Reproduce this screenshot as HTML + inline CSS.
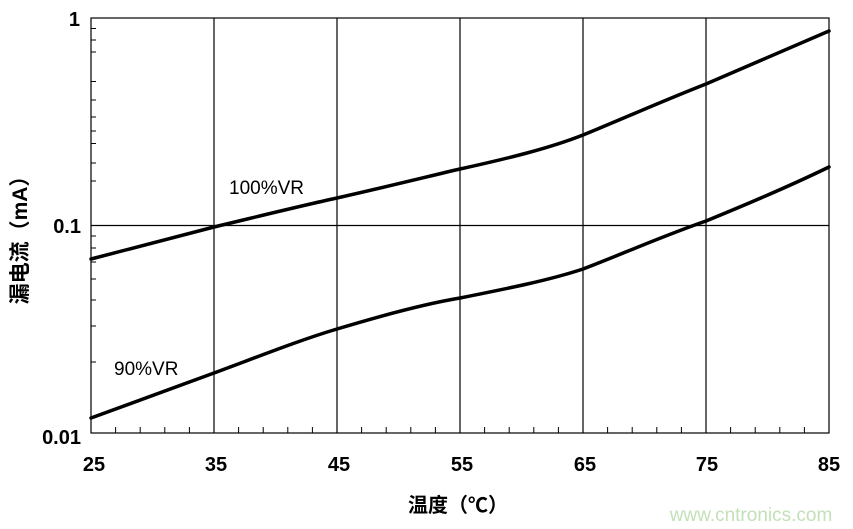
<!DOCTYPE html>
<html><head><meta charset="utf-8"><style>
html,body{margin:0;padding:0;background:#fff;}
svg{display:block;font-family:"Liberation Sans","Noto Sans CJK SC",sans-serif;}
</style></head><body>
<svg width="853" height="529" viewBox="0 0 853 529" xmlns="http://www.w3.org/2000/svg">
<rect width="853" height="529" fill="#fff"/>
<g stroke="#000" stroke-width="1.2" fill="none">
<rect x="91" y="18" width="738" height="415"/>
<line x1="214" y1="18" x2="214" y2="433"/>
<line x1="337" y1="18" x2="337" y2="433"/>
<line x1="460" y1="18" x2="460" y2="433"/>
<line x1="583" y1="18" x2="583" y2="433"/>
<line x1="706" y1="18" x2="706" y2="433"/>
<line x1="91" y1="225.5" x2="829" y2="225.5"/>
</g>
<g stroke="#000" stroke-width="1">
<line x1="91" x2="96" y1="81.5" y2="81.5"/><line x1="91" x2="96" y1="100" y2="100"/><line x1="91" x2="96" y1="117" y2="117"/><line x1="91" x2="96" y1="131" y2="131"/><line x1="91" x2="96" y1="143.5" y2="143.5"/><line x1="91" x2="96" y1="163" y2="163"/><line x1="91" x2="96" y1="181" y2="181"/>
<line x1="91" x2="96" y1="236" y2="236"/><line x1="91" x2="96" y1="248" y2="248"/><line x1="91" x2="96" y1="262" y2="262"/><line x1="91" x2="96" y1="279" y2="279"/><line x1="91" x2="96" y1="300" y2="300"/><line x1="91" x2="96" y1="326" y2="326"/><line x1="91" x2="96" y1="362" y2="362"/>
<line x1="91" x2="96" y1="28.5" y2="28.5"/><line x1="91" x2="96" y1="40" y2="40"/><line x1="91" x2="96" y1="52" y2="52"/>
</g>
<g stroke="#000" stroke-width="1">
<line x1="115.6" x2="115.6" y1="427" y2="433"/><line x1="140.2" x2="140.2" y1="427" y2="433"/><line x1="164.8" x2="164.8" y1="427" y2="433"/><line x1="189.4" x2="189.4" y1="427" y2="433"/>
<line x1="238.6" x2="238.6" y1="427" y2="433"/><line x1="263.2" x2="263.2" y1="427" y2="433"/><line x1="287.8" x2="287.8" y1="427" y2="433"/><line x1="312.4" x2="312.4" y1="427" y2="433"/>
<line x1="361.6" x2="361.6" y1="427" y2="433"/><line x1="386.2" x2="386.2" y1="427" y2="433"/><line x1="410.8" x2="410.8" y1="427" y2="433"/><line x1="435.4" x2="435.4" y1="427" y2="433"/>
<line x1="484.6" x2="484.6" y1="427" y2="433"/><line x1="509.2" x2="509.2" y1="427" y2="433"/><line x1="533.8" x2="533.8" y1="427" y2="433"/><line x1="558.4" x2="558.4" y1="427" y2="433"/>
<line x1="607.6" x2="607.6" y1="427" y2="433"/><line x1="632.2" x2="632.2" y1="427" y2="433"/><line x1="656.8" x2="656.8" y1="427" y2="433"/><line x1="681.4" x2="681.4" y1="427" y2="433"/>
<line x1="730.6" x2="730.6" y1="427" y2="433"/><line x1="755.2" x2="755.2" y1="427" y2="433"/><line x1="779.8" x2="779.8" y1="427" y2="433"/><line x1="804.4" x2="804.4" y1="427" y2="433"/>
</g>
<g stroke="#000" stroke-width="3.5" fill="none" stroke-linecap="round">
<path d="M91,259 L214,227 C260,216 300,206 337,198 C390,186 430,176 460,169 C510,158 550,148 583,135 C620,120 660,102 706,84 C750,65 790,48 829,31"/>
<path d="M91,418 L214,373 C260,356 300,340 337,329 C390,313 430,303 460,298 C510,288 550,280 583,269 C620,255 660,237 706,221 C750,203 790,186 829,167"/>
</g>
<g font-size="19" fill="#000">
<text x="229" y="194">100%VR</text>
<text x="114" y="375">90%VR</text>
</g>
<g font-size="20" font-weight="bold" fill="#000" text-anchor="end">
<text x="80" y="26">1</text>
<text x="81" y="233">0.1</text>
<text x="81" y="444">0.01</text>
</g>
<g font-size="20" font-weight="bold" fill="#000" text-anchor="middle">
<text x="94" y="471">25</text>
<text x="216" y="471">35</text>
<text x="339" y="471">45</text>
<text x="462" y="471">55</text>
<text x="585" y="471">65</text>
<text x="707" y="471">75</text>
<text x="829" y="471">85</text>
</g>
<text transform="translate(27,235) rotate(-90)" text-anchor="middle" font-size="21" font-weight="bold" fill="#000">漏电流（mA）</text>
<text x="458" y="512" text-anchor="middle" font-size="20" font-weight="bold" fill="#000">温度（℃）</text>
<text x="751" y="521" text-anchor="middle" font-size="19" fill="#c4e0b8">www.cntronics.com</text>
</svg>
</body></html>
